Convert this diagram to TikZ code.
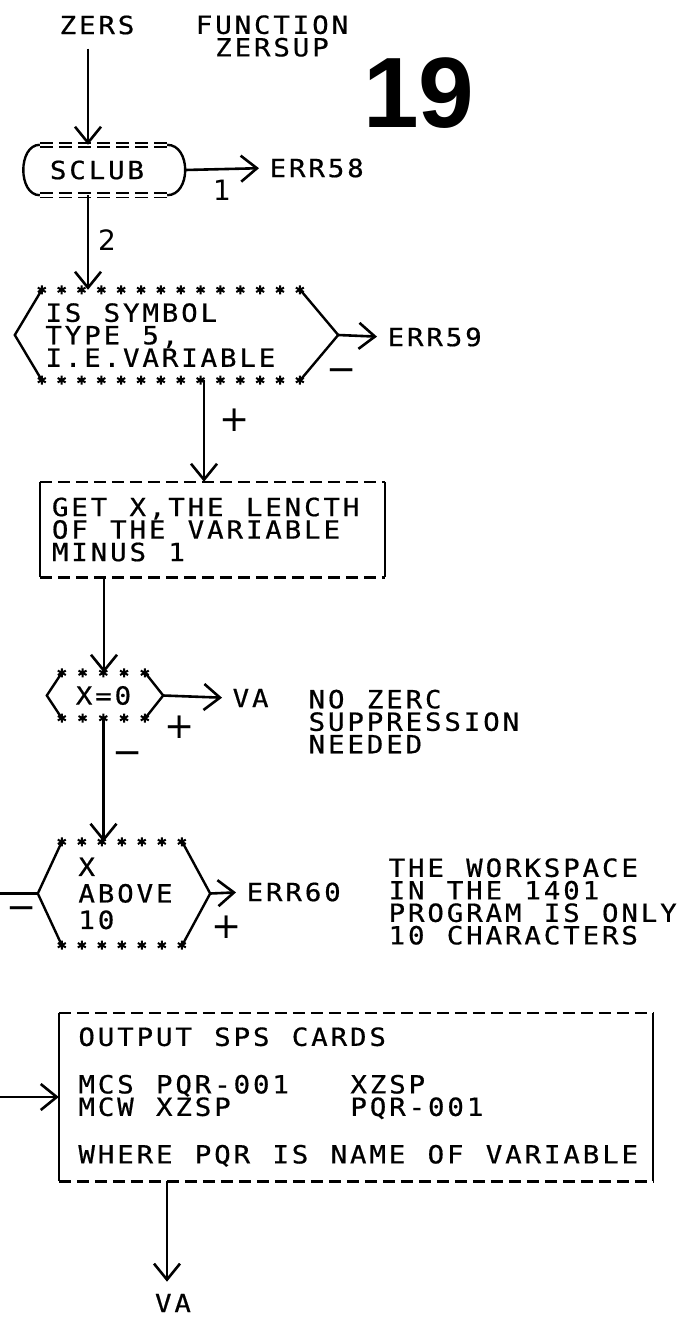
\documentclass[tikz,border=0pt]{standalone}
\usepackage{fontspec}
\newfontfamily\prtfont[FakeStretch=1.1, FakeBold=0.6]{DejaVu Sans Mono}
\newfontfamily\handfont{DejaVu Sans}
\newfontfamily\pagefont{Liberation Sans}
\ExplSyntaxOn
\NewDocumentCommand\prt{m}{\str_map_inline:nn {#1} {\makebox[19.4pt]{##1}}}
\ExplSyntaxOff
\usetikzlibrary{positioning,calc,arrows.meta}

\begin{document}
\begin{tikzpicture}[
    x=1pt, y=-1pt,
    every node/.style={inner sep=0pt, font=\prtfont\fontsize{25}{22.5}\selectfont},
    edge/.style={line width=2.4pt},
    dsh/.style={line width=2.6pt, dash pattern=on 12pt off 6pt},
    eq/.style={line width=1.6pt, double, double distance=2.6pt, dash pattern=on 13pt off 6pt},
    arr/.style={line width=2.6pt, -{Straight Barb[length=16pt, width=26pt]}},
    lbl/.style={font=\handfont\fontsize{28}{28}\selectfont},
    sgn/.style={font=\handfont\fontsize{36}{36}\selectfont},
    ast/.pic={\draw[line width=2pt] (0,-4.5) -- (0,4.5) (-4,-2.2) -- (4,2.2) (-4,2.2) -- (4,-2.2);}
]
\useasboundingbox (0,0) rectangle (686,1320);
\path (0,0) coordinate (edgeL);

\node (zers) at (97,25) {\prt{ZERS}};
\node[align=center] (func) at (272,36) {\prt{FUNCTION}\\\prt{ZERSUP}};
\node[font=\pagefont\bfseries\fontsize{100}{100}\selectfont] (page) at (419,93) {19};

\node[minimum width=127pt, minimum height=50pt, text width=110pt, align=left] (sclub) at (103.5,170) {\prt{SCLUB}};
\node[anchor=west] (err58) at (268,168) {\prt{ERR58}};
\node[minimum width=258pt, minimum height=90pt, text width=254pt, align=left] (symb) at (171,335)
    {\prt{IS SYMBOL}\\\prt{TYPE 5,}\\\prt{I.E.VARIABLE}};
\node[anchor=west] (err59) at (386,337) {\prt{ERR59}};
\node[minimum width=345pt, minimum height=95pt, text width=324pt, align=left] (getx) at (212.5,529.5)
    {\prt{GET X,THE LENCTH}\\\prt{OF THE VARIABLE}\\\prt{MINUS 1}};
\node[minimum width=83pt, minimum height=45pt] (xzero) at (103.5,695.5) {\prt{X=0}};
\node[anchor=west] (va1) at (231,698) {\prt{VA}};
\node[anchor=west, align=left] (nozero) at (307,721.5) {\prt{NO ZERC}\\\prt{SUPPRESSION}\\\prt{NEEDED}};
\node[minimum width=120pt, minimum height=103pt, text width=90pt, align=left] (xabove) at (122,893.5)
    {\prt{X}\\[4pt]\prt{ABOVE}\\[4pt]\prt{10}};
\node[anchor=west] (err60) at (245,892) {\prt{ERR60}};
\node[anchor=west, align=left] (wksp) at (387,901.5)
    {\prt{THE WORKSPACE}\\\prt{IN THE 1401}\\\prt{PROGRAM IS ONLY}\\\prt{10 CHARACTERS}};
\node[minimum width=594pt, minimum height=168pt, text width=558pt, align=left] (sps) at (356,1097)
    {\prt{OUTPUT SPS CARDS}\\[25pt]
     \makebox[272pt][l]{\prt{MCS PQR-001}}\prt{XZSP}\\
     \makebox[272pt][l]{\prt{MCW XZSP}}\prt{PQR-001}\\[25pt]
     \prt{WHERE PQR IS NAME OF VARIABLE}};
\node (va2) at (173,1303) {\prt{VA}};

\draw[eq] (sclub.north west) -- (sclub.north east) (sclub.south west) -- (sclub.south east);
\draw[edge] (sclub.north west) .. controls +(-22,0) and +(-22,0) .. (sclub.south west);
\draw[edge] (sclub.north east) .. controls +(24,0) and +(24,0) .. (sclub.south east);

\foreach \n/\k/\d in {symb/13/19.85, xzero/4/20.75, xabove/6/20}
    \foreach \i in {0,...,\k} {
        \pic at ($(\n.north west)+(\i*\d,0)$) {ast};
        \pic at ($(\n.south west)+(\i*\d,0)$) {ast};
    }
\foreach \n/\l/\r in {symb/27/38, xzero/15/18, xabove/24/28} {
    \coordinate (\n-w) at ($(\n.west)+(-\l,0)$);
    \coordinate (\n-e) at ($(\n.east)+(\r,0)$);
    \draw[edge] (\n.north west) -- (\n-w) -- (\n.south west);
    \draw[edge] (\n.north east) -- (\n-e) -- (\n.south east);
}
\foreach \n in {getx, sps} {
    \draw[dsh] (\n.north west) -- (\n.north east) (\n.south west) -- (\n.south east);
    \draw[edge] (\n.north west) -- (\n.south west) (\n.north east) -- (\n.south east);
}

\coordinate (in1) at ($(sclub.north)+(-15.5,0)$);
\coordinate (sclub-e) at ($(sclub.east)+(18,0)$);
\coordinate (out1) at ($(sclub.south)+(-15.5,0)$);
\coordinate (out2) at ($(symb.south)+(33,0)$);
\coordinate (out3) at ($(getx.south)+(-108.5,0)$);
\coordinate (out4) at ($(sps.south)+(-189,0)$);

\draw[arr, shorten <=14pt] (zers.south -| in1) -- (in1);
\draw[arr] (out1) -- (out1 |- symb.north);
\draw[arr] (out2) -- (out2 |- getx.north);
\draw[arr] (out3) -- (out3 |- xzero.north);
\draw[arr] (xzero.south) -- (xzero.south |- xabove.north);
\draw[arr, shorten >=12pt] (out4) -- (out4 |- va2.north);
\foreach \a/\b in {sclub-e/err58, symb-e/err59, xzero-e/va1, xabove-e/err60}
    \draw[arr, shorten >=9pt] (\a) -- (\b.west);
\draw[edge] (xabove-w) -- (xabove-w -| edgeL);
\draw[arr] (sps.west -| edgeL) -- (sps.west);

\node[lbl] (l1) at (222,190) {1};
\node[lbl] (l2) at (107,240) {2};
\node[sgn] (m1) at (342,375) {−};
\node[sgn] (p1) at (235,420) {+};
\node[sgn] (p2) at (180,727) {+};
\node[sgn] (m2) at (128,758) {−};
\node[sgn] (p3) at (227,927) {+};
\node[sgn] (m3) at (22,913) {−};
\end{tikzpicture}
\end{document}
